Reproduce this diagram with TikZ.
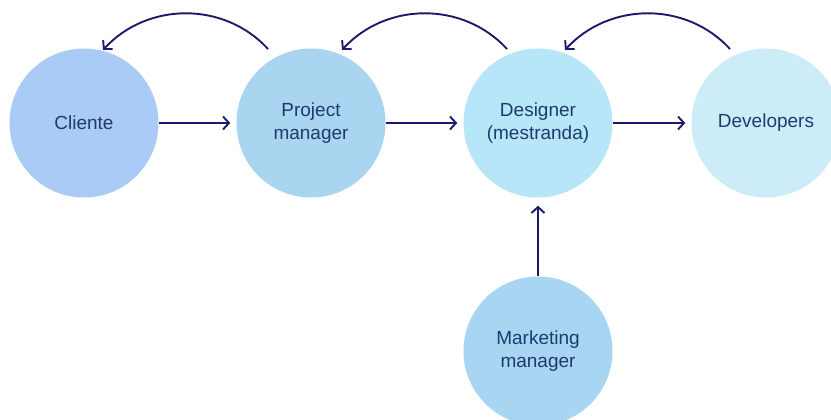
\documentclass[tikz,border=0pt]{standalone}
\usepackage{fontspec}
\setmainfont{Liberation Sans}
\usetikzlibrary{arrows.meta,calc}
\definecolor{inkblue}{HTML}{1B1A6B}
\definecolor{labelblue}{HTML}{1E3A6E}
\definecolor{cClient}{HTML}{A9CBF5}
\definecolor{cPM}{HTML}{A9D5F0}
\definecolor{cDesign}{HTML}{B7E6F8}
\definecolor{cDev}{HTML}{CCEDF8}
\definecolor{cMkt}{HTML}{A8D5F1}
\begin{document}
\begin{tikzpicture}[x=1pt,y=-1pt,
  role/.style={circle,minimum size=149pt,inner sep=0pt,align=center,
    text=labelblue,font=\fontsize{19}{23}\selectfont},
  flow/.style={draw=inkblue,line width=1.9pt,
    -{Straight Barb[length=6pt,width=13pt,line width=1.9pt]}}]
  \clip (0,0) rectangle (831,420);
  \fill[white] (0,0) rectangle (831,420);

  \node[role,fill=cClient] (cl)  at (84,123)  {Cliente};
  \node[role,fill=cPM]     (pm)  at (311,123) {Project\\manager};
  \node[role,fill=cDesign] (ds)  at (538,123) {Designer\\(mestranda)};
  \node[role,fill=cDev]    (dev) at (766,123) {Developers};
  \node[role,fill=cMkt]    (mk)  at (538,351) {Marketing\\manager};

  % forward flow
  \draw[flow,shorten >=6pt] (cl.east) -- (pm.west);
  \draw[flow,shorten >=6pt] (pm.east) -- (ds.west);
  \draw[flow,shorten >=6pt] (ds.east) -- (dev.west);
  \draw[flow,shorten >=8pt] (mk.north) -- (ds.south);

  % feedback arcs over the top
  \coordinate (pmA)  at ($(pm)+(-43,-74)$);
  \coordinate (clB)  at ($(cl)+(19,-73)$);
  \coordinate (dsA)  at ($(ds)+(-31,-74)$);
  \coordinate (pmB)  at ($(pm)+(31,-73)$);
  \coordinate (devA) at ($(dev)+(-36,-74)$);
  \coordinate (dsB)  at ($(ds)+(27,-73)$);
  \draw[flow] (pmA) .. controls ($(pmA)+(-44,-48)$) and ($(clB)+(44,-48)$) .. (clB);
  \draw[flow] (dsA) .. controls ($(dsA)+(-44,-48)$) and ($(pmB)+(44,-48)$) .. (pmB);
  \draw[flow] (devA) .. controls ($(devA)+(-44,-48)$) and ($(dsB)+(44,-48)$) .. (dsB);
\end{tikzpicture}
\end{document}
